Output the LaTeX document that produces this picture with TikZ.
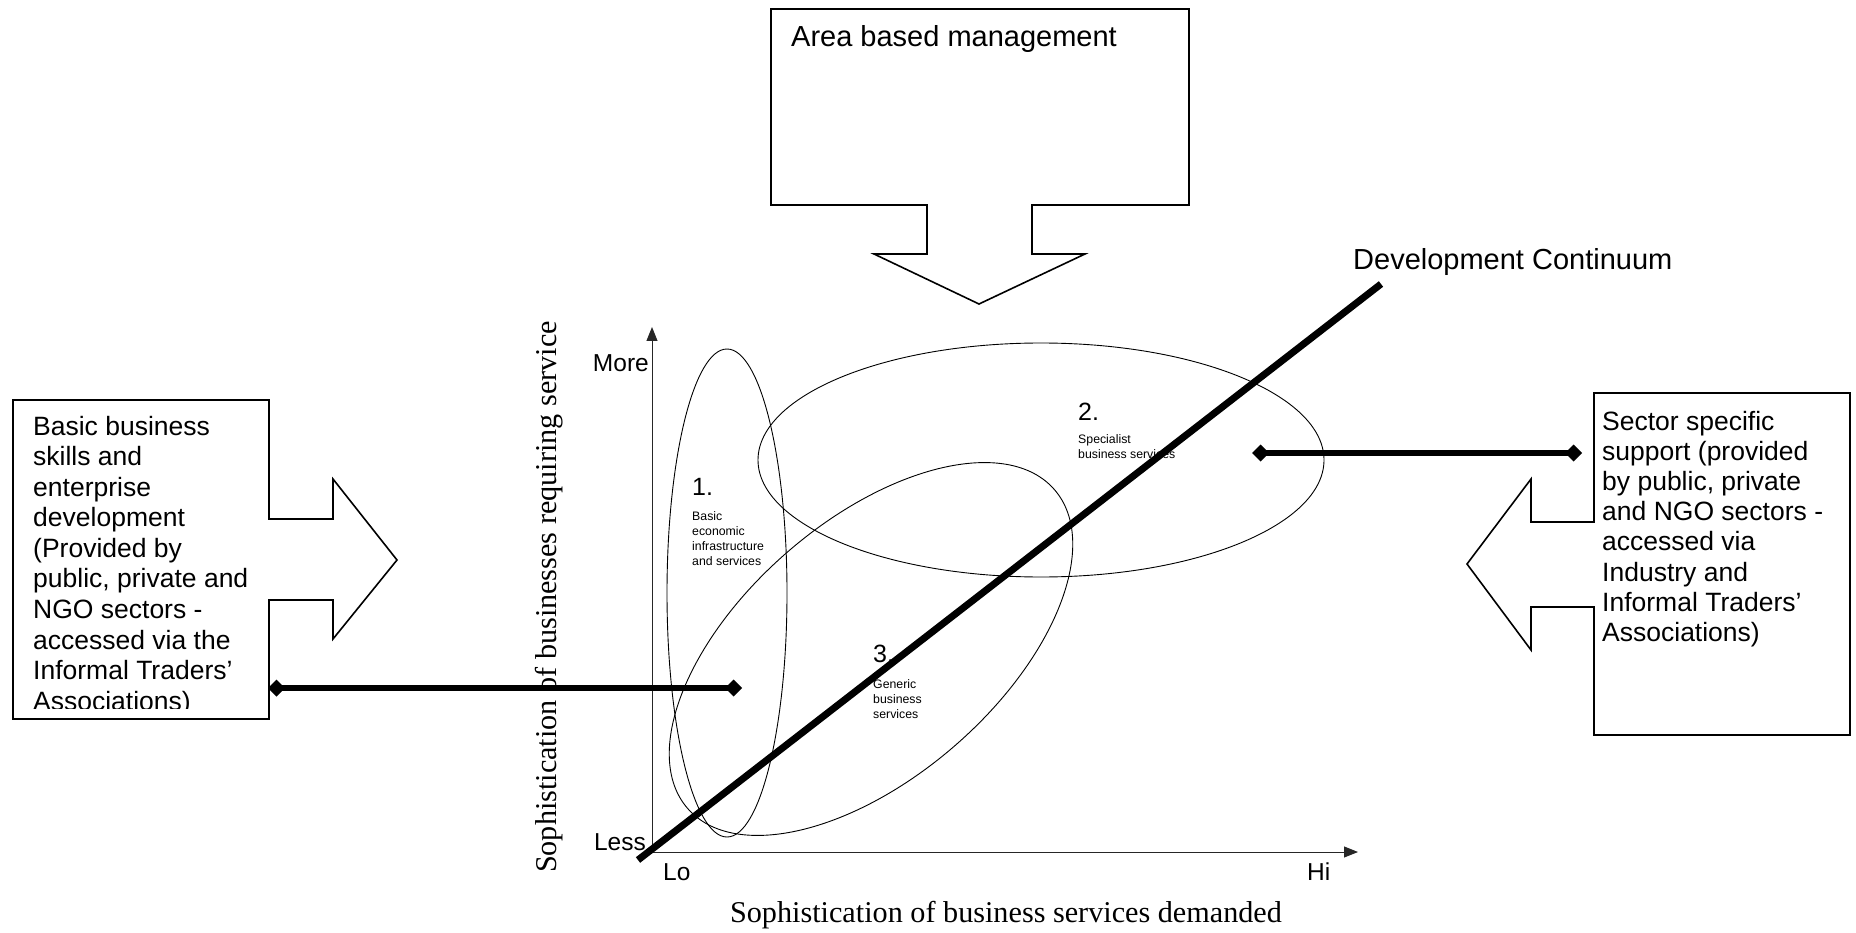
\documentclass[tikz,border=0pt]{standalone}
\usepackage{fontspec}
\setmainfont{Liberation Sans}
\newfontfamily\tmsfont{Liberation Serif}
\usetikzlibrary{arrows.meta}
\newcommand\setfsz[2]{\fontsize{#1}{#2}\selectfont}
\begin{document}
\begin{tikzpicture}[x=1pt,y=-1pt,
  callout/.style={draw=black, line width=1.6pt, fill=white, line join=miter},
  oval/.style={draw=black, line width=0.9pt},
  axisline/.style={draw=black!85, line width=1pt, -{Triangle[length=14pt,width=11pt]}},
  continuum/.style={draw=black, line width=7pt},
  diabar/.style={draw=black, line width=6pt, {Diamond[length=17pt,width=17pt]}-{Diamond[length=17pt,width=17pt]}},
  txt/.style={inner sep=0pt, anchor=base west},
  bigtxt/.style={txt, font=\setfsz{26.5}{30.6}},
  axtxt/.style={inner sep=0pt, font=\setfsz{24.5}{28}},
  numtxt/.style={txt, font=\setfsz{25}{28}},
  smalltxt/.style={txt, font=\setfsz{12.3}{15}},
  serif/.style={inner sep=0pt, anchor=base, font=\tmsfont\setfsz{30.2}{36}}
]
\useasboundingbox (0,0) rectangle (1856,933);

% ---- callout boxes ----
\draw[callout] (771,9) -- (1189,9) -- (1189,205) -- (1032,205) -- (1032,254)
  -- (1085,254) -- (979,304) -- (874,254) -- (927,254) -- (927,205) -- (771,205) -- cycle;
\node[txt, font=\setfsz{29}{33}] (abm) at (791,47) {Area based management};

\draw[callout] (13,400) -- (269,400) -- (269,519) -- (333,519) -- (333,479) -- (397,560)
  -- (333,639) -- (333,600) -- (269,600) -- (269,719) -- (13,719) -- cycle;
\begin{scope}
  \clip (13,400) rectangle (269,708);
  \node[bigtxt] (basic) at (33,435) {\parbox[t]{236pt}{\raggedright
    Basic business\\ skills and\\ enterprise\\ development\\ (Provided by\\
    public, private and\\ NGO sectors -\\ accessed via the\\ Informal Traders’\\ Associations)}};
\end{scope}

\draw[callout] (1594,393) -- (1850,393) -- (1850,735) -- (1594,735) -- (1594,607)
  -- (1531,607) -- (1531,650) -- (1467,564) -- (1531,479) -- (1531,522) -- (1594,522) -- cycle;
\node[bigtxt, font=\setfsz{26.5}{30.2}] (sector) at (1602,430) {\parbox[t]{240pt}{\raggedright
    Sector specific\\ support (provided\\ by public, private\\ and NGO sectors -\\
    accessed via\\ Industry and\\ Informal Traders’\\ Associations)}};

% ---- axes ----
\coordinate (origin) at (652,852);
\coordinate (ytip) at (652,327);
\coordinate (xtip) at (1358,852);
\draw[axisline] (origin) -- (ytip);
\draw[axisline] (origin) -- (xtip);
\node[axtxt, anchor=base east] (more) at (649,371) {More};
\node[axtxt, anchor=base east] (less) at (646,850) {Less};
\node[axtxt, anchor=base west] (lo) at (663,880) {Lo};
\node[axtxt, anchor=base west] (hi) at (1307,880) {Hi};
\node[serif] (xlab) at (1006,922) {Sophistication of business services demanded};
\node[serif, rotate=90] (ylab) at (556,597) {Sophistication of businesses requiring service};

% ---- ellipses ----
\draw[oval] (727,593) ellipse [x radius=60pt, y radius=244pt];
\draw[oval] (1041,460) ellipse [x radius=283pt, y radius=117pt];
\draw[oval, rotate around={41:(871,649)}] (871,649) ellipse [x radius=243pt, y radius=128pt];

% ---- ellipse labels ----
\node[numtxt] (n1) at (692,495) {1.};
\node[smalltxt] (t1) at (692,520) {\parbox[t]{90pt}{\raggedright Basic\\ economic\\ infrastructure\\ and services}};
\node[numtxt] (n2) at (1078,420) {2.};
\node[smalltxt] (t2) at (1078,443) {\parbox[t]{120pt}{\raggedright Specialist\\ business services}};
\node[numtxt] (n3) at (873,662) {3.};
\node[smalltxt] (t3) at (873,688) {\parbox[t]{90pt}{\raggedright Generic\\ business\\ services}};

% ---- development continuum ----
\coordinate (dcstart) at (638,860);
\coordinate (dcend) at (1381,284);
\draw[continuum] (dcstart) -- (dcend);
\node[txt, font=\setfsz{29}{33}] (dclab) at (1353,270) {Development Continuum};

% ---- diamond bars ----
\coordinate (lbarA) at (268,688);
\coordinate (lbarB) at (742,688);
\draw[diabar] (lbarA) -- (lbarB);
\coordinate (rbarA) at (1252,453);
\coordinate (rbarB) at (1582,453);
\draw[diabar] (rbarA) -- (rbarB);
\end{tikzpicture}
\end{document}
